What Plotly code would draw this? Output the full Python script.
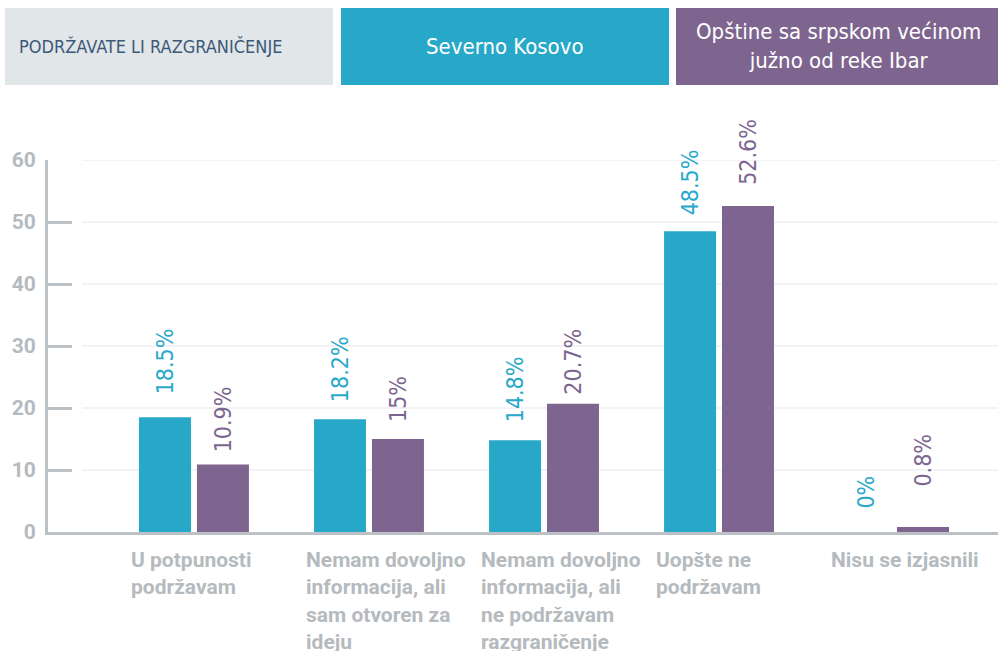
import plotly.graph_objects as go

# ---- data ----
categories = [
    "U potpunosti<br>podržavam",
    "Nemam dovoljno<br>informacija, ali<br>sam otvoren za<br>ideju",
    "Nemam dovoljno<br>informacija, ali<br>ne podržavam<br>razgraničenje",
    "Uopšte ne<br>podržavam",
    "Nisu se izjasnili",
]
severno_kosovo = [18.5, 18.2, 14.8, 48.5, 0]
juzno_od_ibra = [10.9, 15, 20.7, 52.6, 0.8]
severno_labels = ["18.5%", "18.2%", "14.8%", "48.5%", "0%"]
juzno_labels = ["10.9%", "15%", "20.7%", "52.6%", "0.8%"]
y_ticks = [0, 10, 20, 30, 40, 50, 60]

header_left = "PODRŽAVATE LI RAZGRANIČENJE"
header_mid = "Severno Kosovo"
header_right = "Opštine sa srpskom većinom<br>južno od reke Ibar"

# ---- style ----
TEAL = "#27a8c8"
PURPLE = "#7e658f"
GRAY = "#b5babe"
AXIS = "#bcc1c5"
GRID = "#e4e8ec"
COND = "DejaVu Sans Condensed, DejaVu Sans, sans-serif"
W, H = 998, 651
ML, MR, MT, MB = 48, 0, 160, 119
PW, PH = W - ML - MR, H - MT - MB


def px_x(px):
    return (px - ML) / PW


def px_y(py):
    return (H - MB - py) / PH


x_idx = list(range(len(categories)))
bar_w = 0.297

fig = go.Figure()
fig.add_trace(go.Bar(x=x_idx, y=severno_kosovo, width=bar_w, offset=-0.314,
                     marker=dict(color=TEAL, line=dict(width=0)), name="Severno Kosovo",
                     hoverinfo="y"))
fig.add_trace(go.Bar(x=x_idx, y=juzno_od_ibra, width=bar_w, offset=0.017,
                     marker=dict(color=PURPLE, line=dict(width=0)), name="Južno od Ibra",
                     hoverinfo="y"))

shapes = []
# gridlines
for t in y_ticks[1:]:
    shapes.append(dict(type="line", xref="paper", yref="y", x0=px_x(82), x1=1,
                       y0=t, y1=t, line=dict(color=GRID, width=1.2), layer="below"))
# header boxes
boxes = [(5, 333, "#e1e6e9"), (341, 669, "#27a8c8"), (676, 998, "#7e658f")]
for x0, x1, c in boxes:
    shapes.append(dict(type="rect", xref="paper", yref="paper",
                       x0=px_x(x0), x1=px_x(x1), y0=px_y(85), y1=px_y(8),
                       fillcolor=c, line=dict(width=0)))

annotations = []
annotations.append(dict(text=header_left, xref="paper", yref="paper", x=px_x(17), y=px_y(46),
                        xanchor="left", yanchor="middle", showarrow=False,
                        font=dict(family=COND, size=18, color="#3d5878")))
annotations.append(dict(text=header_mid, xref="paper", yref="paper", x=px_x(505), y=px_y(46),
                        xanchor="center", yanchor="middle", showarrow=False,
                        font=dict(family=COND, size=22, color="white")))
annotations.append(dict(text=header_right, xref="paper", yref="paper", x=px_x(838), y=px_y(46),
                        xanchor="center", yanchor="middle", showarrow=False, align="center",
                        font=dict(family=COND, size=22, color="white")))

# category labels
for i, c in enumerate(categories):
    annotations.append(dict(text=c, x=i, y=0, xref="x", yref="y", xanchor="left",
                            yanchor="top", align="left", xshift=-65, yshift=-14,
                            showarrow=False,
                            font=dict(family="Roboto", size=21, color=GRAY, weight="bold")))

# value labels
gap_n = [21, 15, 16, 14, 21]
gap_s = [10, 15, 7, 19, 38]
for i in x_idx:
    annotations.append(dict(text=severno_labels[i], x=i - 0.314 + bar_w / 2, y=severno_kosovo[i],
                            xref="x", yref="y", textangle=-90, xanchor="center",
                            yanchor="bottom", yshift=gap_n[i], showarrow=False,
                            font=dict(family=COND, size=23, color="#29a9ca")))
    annotations.append(dict(text=juzno_labels[i], x=i + 0.017 + bar_w / 2, y=juzno_od_ibra[i],
                            xref="x", yref="y", textangle=-90, xanchor="center",
                            yanchor="bottom", yshift=gap_s[i], showarrow=False,
                            font=dict(family=COND, size=23, color="#7d6591")))

fig.update_layout(
    width=W, height=H,
    margin=dict(l=ML, r=MR, t=MT, b=MB),
    paper_bgcolor="white", plot_bgcolor="white",
    barmode="overlay",
    showlegend=False,
    shapes=shapes,
    annotations=annotations,
    xaxis=dict(range=[-0.834, 4.594], showticklabels=False, showgrid=False,
               zeroline=False, showline=True, linecolor=AXIS, linewidth=3, ticks=""),
    yaxis=dict(range=[0, 60], tickvals=y_ticks, showgrid=False, zeroline=False,
               showline=True, linecolor=AXIS, linewidth=3,
               ticks="inside", ticklen=24, tickwidth=3, tickcolor=AXIS,
               ticklabelstandoff=5,
               tickfont=dict(family="Roboto", size=21, color=GRAY, weight="bold")),
)

fig.write_html("out.html", config={"displayModeBar": False},
               post_script="document.body.style.margin='0';")
